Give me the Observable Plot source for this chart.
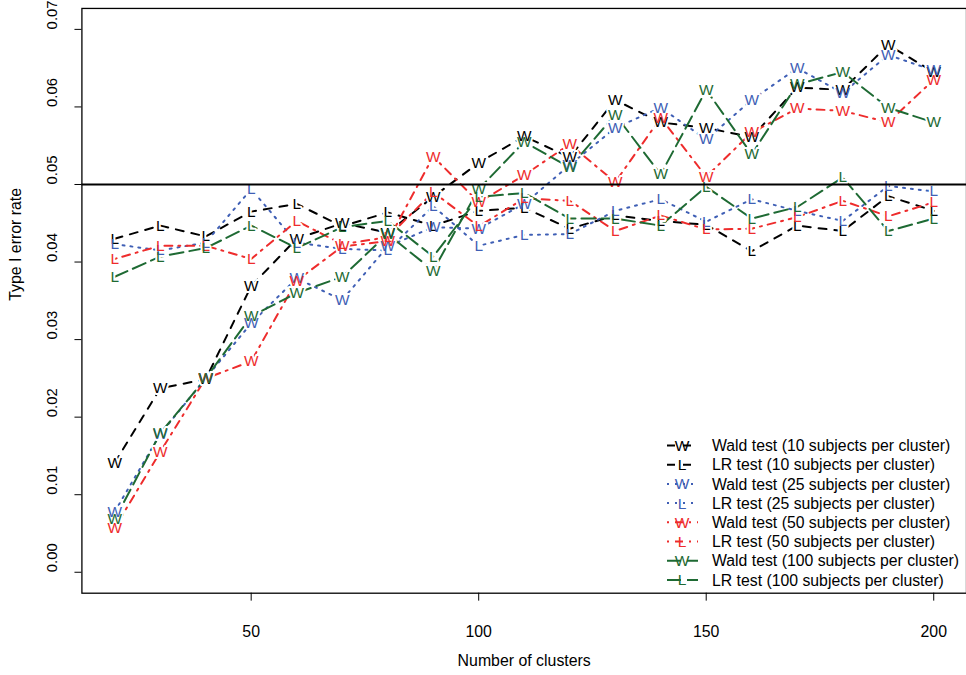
<!DOCTYPE html>
<html><head><meta charset="utf-8">
<script src="https://cdn.jsdelivr.net/npm/d3@7"></script>
<script src="https://cdn.jsdelivr.net/npm/@observablehq/plot@0.6"></script>
<style>
html,body{margin:0;padding:0;background:#fff;overflow:hidden;}
#wrap{position:relative;width:966px;height:675px;overflow:hidden;font-family:"Liberation Sans",Arial,sans-serif;}
#legend{position:absolute;left:0;top:0;}
</style></head><body><div id="wrap"></div>
<script>
const clusters = [20,30,40,50,60,70,80,90,100,110,120,130,140,150,160,170,180,190,200];
const waldN10  = [0.0141,0.0237,0.0249,0.0369,0.0430,0.0450,0.0438,0.0484,0.0528,0.0562,0.0535,0.0609,0.0580,0.0573,0.0561,0.0625,0.0622,0.0680,0.0645];
const lrN10    = [0.0430,0.0447,0.0433,0.0465,0.0475,0.0446,0.0464,0.0447,0.0466,0.0470,0.0443,0.0460,0.0453,0.0448,0.0414,0.0447,0.0440,0.0485,0.0466];
const waldN25  = [0.0078,0.0178,0.0250,0.0321,0.0379,0.0351,0.0420,0.0445,0.0443,0.0475,0.0525,0.0573,0.0599,0.0558,0.0609,0.0650,0.0618,0.0667,0.0647];
const lrN25    = [0.0423,0.0415,0.0425,0.0494,0.0425,0.0417,0.0415,0.0472,0.0421,0.0435,0.0436,0.0466,0.0481,0.0452,0.0481,0.0466,0.0453,0.0498,0.0491];
const waldN50  = [0.0057,0.0155,0.0250,0.0272,0.0376,0.0420,0.0427,0.0536,0.0477,0.0512,0.0552,0.0503,0.0586,0.0510,0.0567,0.0598,0.0595,0.0580,0.0635];
const lrN50    = [0.0404,0.0421,0.0421,0.0404,0.0453,0.0423,0.0432,0.0490,0.0446,0.0482,0.0479,0.0440,0.0460,0.0442,0.0443,0.0458,0.0479,0.0459,0.0477];
const waldN100 = [0.0068,0.0179,0.0250,0.0330,0.0360,0.0381,0.0436,0.0389,0.0494,0.0555,0.0522,0.0590,0.0513,0.0622,0.0539,0.0629,0.0645,0.0599,0.0580];
const lrN100   = [0.0381,0.0407,0.0418,0.0447,0.0418,0.0445,0.0453,0.0407,0.0484,0.0489,0.0456,0.0456,0.0447,0.0497,0.0456,0.0471,0.0509,0.0440,0.0456];
const referenceLevel = [0.05];
const xTicks = [50,100,150,200];
const yTicks = [0,0.01,0.02,0.03,0.04,0.05,0.06,0.07];
const xLabel = "Number of clusters";
const yLabel = "Type I error rate";
const labels = [
  "Wald test (10 subjects per cluster)",
  "LR test (10 subjects per cluster)",
  "Wald test (25 subjects per cluster)",
  "LR test (25 subjects per cluster)",
  "Wald test (50 subjects per cluster)",
  "LR test (50 subjects per cluster)",
  "Wald test (100 subjects per cluster)",
  "LR test (100 subjects per cluster)"
];
const letters = ["W","L","W","L","W","L","W","L"];
const colors = ["#000000","#000000","#3F5FB5","#3F5FB5","#EE2C2C","#EE2C2C","#1E6A33","#1E6A33"];
const dashes = ["8,8","8,8","2,6","2,6","2,6,8,6","2,6,8,6","14,6","14,6"];
const valueSets = [waldN10, lrN10, waldN25, lrN25, waldN50, lrN50, waldN100, lrN100];

const FONT = '"Liberation Sans", Arial, sans-serif';
const rows = valueSets.flatMap((vals, i) => clusters.map((c, j) => ({x: c, y: vals[j], s: i, letter: letters[i]})));

const marks = [];
marks.push(Plot.frame({stroke: "#000", strokeWidth: 1.3}));
valueSets.forEach((_, i) => {
  marks.push(Plot.line(rows.filter(r => r.s === i), {x: "x", y: "y", stroke: colors[i], strokeWidth: 2, strokeDasharray: dashes[i]}));
});
// gaps around the point letters (as in R type = "b")
valueSets.forEach((_, i) => {
  marks.push(Plot.text(rows.filter(r => r.s === i), {x: "x", y: "y", text: "letter", fill: "white", stroke: "white", strokeWidth: 4, fontSize: 15.5}));
});
valueSets.forEach((_, i) => {
  marks.push(Plot.text(rows.filter(r => r.s === i), {x: "x", y: "y", text: "letter", fill: colors[i], fontSize: 15.5}));
});
marks.push(Plot.ruleY(referenceLevel, {stroke: "#000", strokeWidth: 2}));
marks.push(Plot.axisX(xTicks, {tickSize: 8, tickPadding: 25, fontSize: 16, label: null}));
marks.push(Plot.axisY(yTicks, {tickSize: 7, tickFormat: () => "", label: null}));
marks.push(Plot.text(yTicks, {y: d => d, frameAnchor: "left", dx: -30, text: d => d.toFixed(2), rotate: -90, fontSize: 15}));
marks.push(Plot.text([yLabel], {frameAnchor: "left", dx: -66, text: d => d, rotate: -90, fontSize: 16}));
marks.push(Plot.text([xLabel], {frameAnchor: "bottom", dy: 68, lineAnchor: "middle", text: d => d, fontSize: 16}));

const chart = Plot.plot({
  width: 973, height: 675,
  marginLeft: 82, marginRight: 0, marginTop: 8, marginBottom: 78,
  x: {domain: [12.8, 207.2]},
  y: {domain: [-0.0027, 0.0727]},
  style: {fontFamily: FONT, fontSize: "16px", color: "#000", background: "#fff", overflow: "visible"},
  marks
});
const wrap = document.getElementById("wrap");
wrap.appendChild(chart);

// legend
const lg = d3.select(wrap).append("svg").attr("id", "legend").attr("width", 966).attr("height", 675)
  .style("font-family", FONT);
labels.forEach((lab, i) => {
  const cy = 445.5 + i * 19.2;
  lg.append("line").attr("x1", 667).attr("x2", 698).attr("y1", cy).attr("y2", cy)
    .attr("stroke", colors[i]).attr("stroke-width", 2).attr("stroke-dasharray", dashes[i]);
  lg.append("text").attr("x", 682).attr("y", cy).attr("dy", "0.36em").attr("text-anchor", "middle")
    .attr("font-size", 15.5).attr("fill", colors[i]).text(letters[i]);
  lg.append("text").attr("x", 712).attr("y", cy).attr("dy", "0.36em")
    .attr("font-size", 15.8).attr("fill", "#000").text(lab);
});
</script></body></html>
